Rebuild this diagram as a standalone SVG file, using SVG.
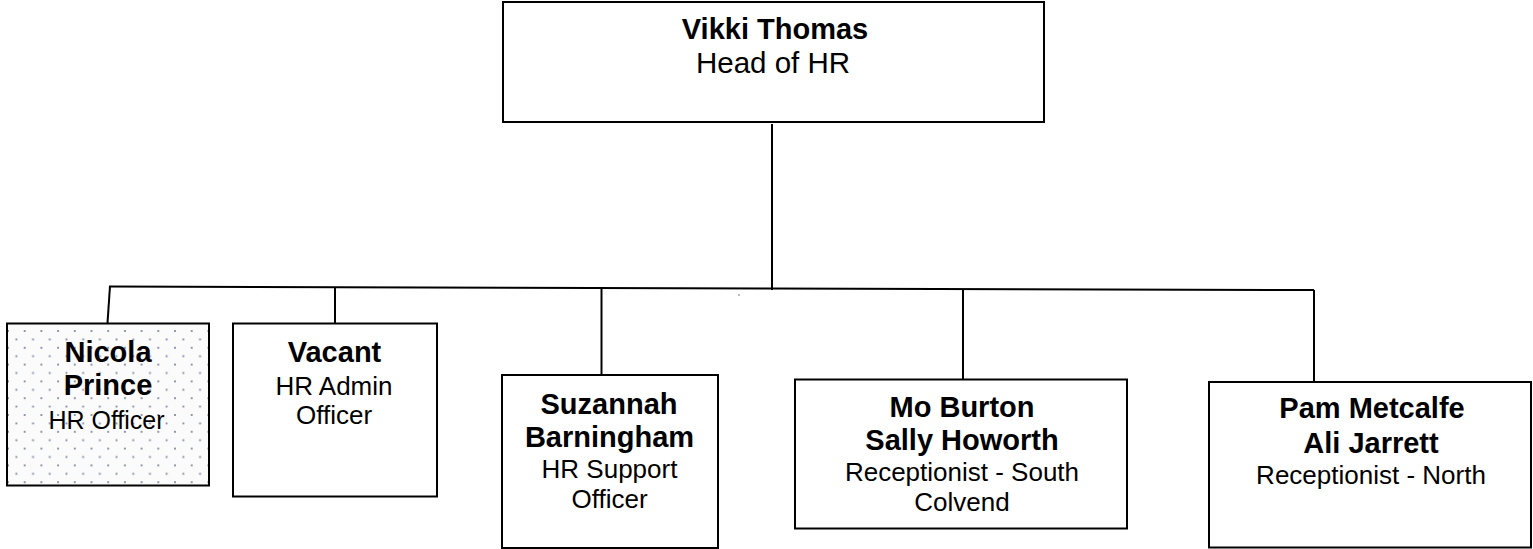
<svg xmlns="http://www.w3.org/2000/svg" width="1533" height="549" viewBox="0 0 1533 549">
<style>
.box{fill:#fff;stroke:#000;stroke-width:2}
.line{fill:none;stroke:#000;stroke-width:2}
.b{font-family:"Liberation Sans",Arial,sans-serif;font-weight:bold;font-size:29px;fill:#000;text-anchor:middle}
.r{font-family:"Liberation Sans",Arial,sans-serif;font-size:26px;fill:#000;text-anchor:middle}
.rt{font-family:"Liberation Sans",Arial,sans-serif;font-size:29.5px;fill:#000;text-anchor:middle}
</style>
<defs>
<pattern id="dots" x="8" y="331" width="16.7" height="16.8" patternUnits="userSpaceOnUse">
<rect x="0" y="0" width="16.7" height="16.8" fill="#fbfbfb"/>
<rect x="-0.9" y="-0.9" width="1.8" height="1.8" fill="#7a849a"/>
<rect x="7.45" y="7.5" width="1.8" height="1.8" fill="#7a849a"/>
<rect x="15.8" y="-0.9" width="1.8" height="1.8" fill="#7a849a"/>
<rect x="-0.9" y="15.9" width="1.8" height="1.8" fill="#7a849a"/>
<rect x="15.8" y="15.9" width="1.8" height="1.8" fill="#7a849a"/>
</pattern>
</defs>
<rect width="1533" height="549" fill="#fff"/>
<g id="connectors">
<path class="line" d="M772 124 V290"/>
<polyline class="line" points="109,286.5 772,288.5 1314,290"/>
<path class="line" d="M110 286 L107.5 323"/>
<path class="line" d="M335 288 V323"/>
<path class="line" d="M601.5 289 V375"/>
<path class="line" d="M963 289 V379"/>
<path class="line" d="M1314 290 V386"/>
<rect x="738.3" y="294.3" width="1.4" height="1.4" fill="#777"/>
</g>
<g id="vikki">
<rect class="box" x="503" y="2" width="541" height="120"/>
<text class="b" x="775" y="38.5">Vikki Thomas</text>
<text class="rt" x="773" y="73">Head of HR</text>
</g>
<g id="nicola">
<rect class="box" x="7" y="323.5" width="202" height="162" style="fill:url(#dots)"/>
<text class="b" x="108" y="362">Nicola</text>
<text class="b" x="108" y="395">Prince</text>
<text class="r" x="106.5" y="429" style="font-size:25px">HR Officer</text>
</g>
<g id="vacant">
<rect class="box" x="233" y="323.5" width="204" height="173"/>
<text class="b" x="334.5" y="362">Vacant</text>
<text class="r" x="334" y="395">HR Admin</text>
<text class="r" x="334" y="423.5">Officer</text>
</g>
<g id="suzannah">
<rect class="box" x="502" y="375" width="216" height="173"/>
<text class="b" x="609" y="414">Suzannah</text>
<text class="b" x="609.5" y="447">Barningham</text>
<text class="r" x="609.5" y="478">HR Support</text>
<text class="r" x="609.5" y="508">Officer</text>
</g>
<g id="mo">
<rect class="box" x="795" y="379.5" width="332" height="149"/>
<text class="b" x="962" y="417">Mo Burton</text>
<text class="b" x="962" y="450">Sally Howorth</text>
<text class="r" x="962" y="481">Receptionist - South</text>
<text class="r" x="962" y="511">Colvend</text>
</g>
<g id="pam">
<rect class="box" x="1209" y="382" width="322" height="165.5"/>
<text class="b" x="1372" y="418">Pam Metcalfe</text>
<text class="b" x="1371" y="452.5">Ali Jarrett</text>
<text class="r" x="1371" y="484">Receptionist - North</text>
</g>
</svg>
